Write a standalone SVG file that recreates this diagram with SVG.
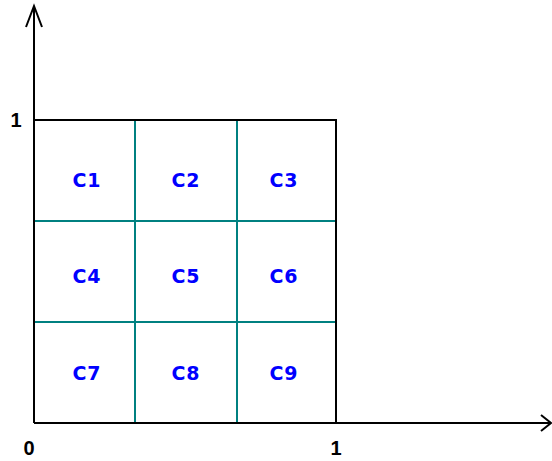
<svg xmlns="http://www.w3.org/2000/svg" width="552" height="461" viewBox="0 0 552 461">
<style>
.ax{stroke:#000;stroke-width:2;fill:none}
.g{stroke:#008080;stroke-width:2;fill:none}
.c{font-family:"DejaVu Sans",Arial,sans-serif;font-weight:bold;font-size:19px;fill:#0000ff;text-anchor:middle;letter-spacing:1px}
.n{font-family:"Liberation Sans",Arial,sans-serif;font-weight:bold;font-size:20px;fill:#000;text-anchor:middle}
</style>
<rect width="552" height="461" fill="#fff"/>
<g id="connectors">
<path class="g" d="M135 121V423M237 121V423M35 221H336M35 322H336"/>
<path class="ax" d="M34 423V6M26 27L34 6L42 27M34 423H551M541 415L551 423L541 431M34 120H336V423"/>
</g>
<g id="labels">
<text class="n" x="16" y="127">1</text>
<text class="n" x="29" y="455">0</text>
<text class="n" x="336" y="455">1</text>
</g>
<g id="C1"><text class="c" x="87" y="187">C1</text></g>
<g id="C2"><text class="c" x="186" y="187">C2</text></g>
<g id="C3"><text class="c" x="284" y="187">C3</text></g>
<g id="C4"><text class="c" x="87" y="283">C4</text></g>
<g id="C5"><text class="c" x="186" y="283">C5</text></g>
<g id="C6"><text class="c" x="284" y="283">C6</text></g>
<g id="C7"><text class="c" x="87" y="380">C7</text></g>
<g id="C8"><text class="c" x="186" y="380">C8</text></g>
<g id="C9"><text class="c" x="284" y="380">C9</text></g>
</svg>
